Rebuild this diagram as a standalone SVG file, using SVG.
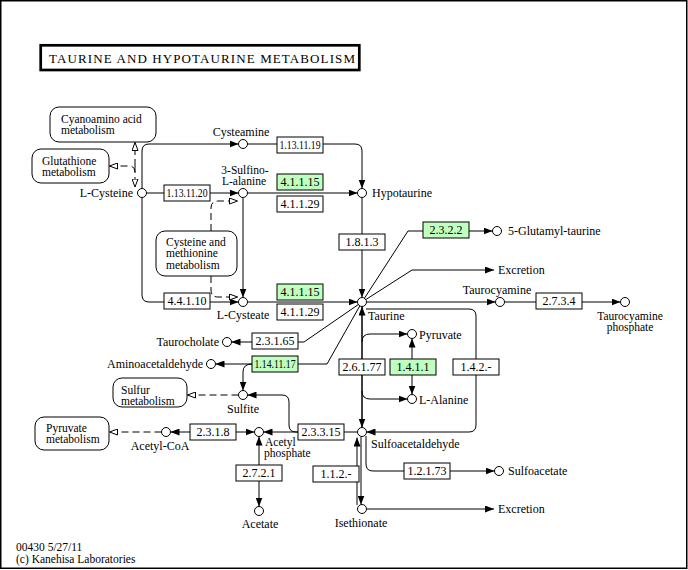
<svg xmlns="http://www.w3.org/2000/svg" width="688" height="570" viewBox="0 0 688 570" font-family="Liberation Serif, Times New Roman, serif">
<style>
text{font-family:"Liberation Serif","Times New Roman",serif;font-size:12px;fill:#000}
.m{font-size:11.5px}
.t{text-anchor:middle}
.e{text-anchor:end}
.box{fill:#fff;stroke:#000;stroke-width:1}
.g{fill:#bfffbf}
.map{fill:#fff;stroke:#000;stroke-width:1}
.c{fill:#fff;stroke:#000;stroke-width:1}
.l{fill:none;stroke:#000;stroke-width:1;marker-end:url(#ar)}
.d{fill:none;stroke:#000;stroke-width:1;stroke-dasharray:7,4;marker-end:url(#ho)}
</style>
<defs>
<marker id="ar" viewBox="0 0 9 7" refX="9" refY="3.5" markerWidth="9" markerHeight="7" markerUnits="userSpaceOnUse" orient="auto"><path d="M0,0L9,3.5L0,7z" fill="#000"/></marker>
<marker id="ho" viewBox="0 0 9 7" refX="8.5" refY="3.5" markerWidth="9" markerHeight="7" markerUnits="userSpaceOnUse" orient="auto"><path d="M0.5,0.5L8.5,3.5L0.5,6.5z" fill="#fff" stroke="#000" stroke-width="1"/></marker>
</defs>
<rect x="0.75" y="0.75" width="686" height="567.5" fill="#fff" stroke="#000" stroke-width="1.5"/>
<g id="title">
<rect x="40.7" y="45.3" width="318.6" height="24.7" fill="none" stroke="#000" stroke-width="2.7"/>
<text x="49" y="62.5" style="font-size:13px" textLength="306" lengthAdjust="spacing">TAURINE  AND  HYPOTAURINE  METABOLISM</text>
</g>
<g id="connectors">
<path class="l" d="M142,188.5 V151 Q142,144 149,144 H238.5"/>
<path class="l" d="M146.5,193 H238.5"/>
<path class="l" d="M247.5,144 H355 Q362,144 362,151 V188.5"/>
<path class="l" d="M247.5,193 H357.5"/>
<path class="l" d="M243,197.5 V297.5"/>
<path class="l" d="M142,197.5 V295 Q142,302 149,302 H238.5"/>
<path class="l" d="M247.5,302 H357.5"/>
<path class="l" d="M362,197.5 V297.5"/>
<path class="l" d="M362,302 L408,231 H492.5"/>
<path class="l" d="M362,302 L412,270 H494"/>
<path class="l" d="M366.5,302 H495.5"/>
<path class="l" d="M504.5,302 H620.5"/>
<path class="l" d="M362,302 L304,342 H231.5"/>
<path class="l" d="M362,302 L327,364 H215.5"/>
<path class="l" d="M252,364 Q243,364 243,372 V390.5"/>
<path class="l" d="M298,432 H296 Q289,432 289,425 V402 Q289,395 282,395 H247.5"/>
<path class="l" d="M357.5,432 H263.5"/>
<path class="l" d="M366,309 H469 Q476,309 476,316 V425 Q476,432 469,432 H366.5"/>
<path class="l" d="M362,427.5 V306.5"/>
<path class="l" d="M362,306.5 V427.5"/>
<path class="l" d="M362,342 Q362,334 370,334 H407.5"/>
<path class="l" d="M362,391 Q362,399 370,399 H407.5"/>
<path class="l" d="M412,367 V338.5"/>
<path class="l" d="M412,367 V394.5"/>
<path class="l" d="M213,432 H170.5"/>
<path class="l" d="M213,432 H254.5"/>
<path class="l" d="M259,473 V436.5"/>
<path class="l" d="M259,473 V506.5"/>
<path class="l" d="M357,505 V437.5"/>
<path class="l" d="M361,436.5 V504.5"/>
<path class="l" d="M366,436 V464 Q366,471 373,471 H494.5"/>
<path class="l" d="M366.5,509 H494"/>
<path class="d" d="M135,166 V142.5"/>
<path class="d" d="M135,166 V187"/>
<path class="d" d="M135,172 Q135,166 129,166 H109.5"/>
<path class="d" d="M211,231 V208 Q211,201 218,201 H237.5"/>
<path class="d" d="M211,276 V290 Q211,297 218,297 H237.5"/>
<path class="d" d="M238.5,395 H187.5"/>
<path class="d" d="M161.5,432 H109.5"/>
</g>
<g id="map-cyanoamino"><rect class="map" x="50" y="107" width="106" height="35" rx="9"/><text class="m" x="61" y="122.5">Cyanoamino acid</text><text class="m" x="61" y="134">metabolism</text></g>
<g id="map-glutathione"><rect class="map" x="32" y="149" width="77" height="34" rx="9"/><text class="m" x="42" y="164.5">Glutathione</text><text class="m" x="42" y="176">metabolism</text></g>
<g id="map-cysmet"><rect class="map" x="156" y="231" width="81" height="45" rx="9"/><text class="m" x="166" y="245.5">Cysteine and</text><text class="m" x="166" y="257">methionine</text><text class="m" x="166" y="268.5">metabolism</text></g>
<g id="map-sulfur"><rect class="map" x="113" y="378" width="74" height="29" rx="9"/><text class="m" x="121" y="393.5">Sulfur</text><text class="m" x="121" y="405">metabolism</text></g>
<g id="map-pyruvate"><rect class="map" x="35" y="417" width="74" height="33" rx="9"/><text class="m" x="46" y="431.5">Pyruvate</text><text class="m" x="46" y="443">metabolism</text></g>
<g id="e1.13.11.19"><rect class="box" x="277" y="137" width="46" height="16"/><text class="t" x="300" y="149" textLength="41" lengthAdjust="spacingAndGlyphs">1.13.11.19</text></g>
<g id="e1.13.11.20"><rect class="box" x="164" y="185" width="46" height="16"/><text class="t" x="187" y="197" textLength="41" lengthAdjust="spacingAndGlyphs">1.13.11.20</text></g>
<g id="e4.1.1.15a"><rect class="box g" x="277" y="174" width="46" height="16"/><text class="t" x="300" y="186">4.1.1.15</text></g>
<g id="e4.1.1.29a"><rect class="box" x="277" y="196" width="46" height="16"/><text class="t" x="300" y="208">4.1.1.29</text></g>
<g id="e4.4.1.10"><rect class="box" x="164" y="293" width="46" height="16"/><text class="t" x="187" y="305">4.4.1.10</text></g>
<g id="e4.1.1.15b"><rect class="box g" x="277" y="284" width="46" height="16"/><text class="t" x="300" y="296">4.1.1.15</text></g>
<g id="e4.1.1.29b"><rect class="box" x="277" y="304" width="46" height="16"/><text class="t" x="300" y="316">4.1.1.29</text></g>
<g id="e1.8.1.3"><rect class="box" x="339" y="234" width="46" height="16"/><text class="t" x="362" y="246">1.8.1.3</text></g>
<g id="e2.3.2.2"><rect class="box g" x="423" y="222" width="46" height="16"/><text class="t" x="446" y="234">2.3.2.2</text></g>
<g id="e2.7.3.4"><rect class="box" x="536" y="293" width="46" height="16"/><text class="t" x="559" y="305">2.7.3.4</text></g>
<g id="e2.3.1.65"><rect class="box" x="252" y="333" width="46" height="16"/><text class="t" x="275" y="345">2.3.1.65</text></g>
<g id="e1.14.11.17"><rect class="box g" x="252" y="356" width="46" height="16"/><text class="t" x="275" y="368" textLength="41" lengthAdjust="spacingAndGlyphs">1.14.11.17</text></g>
<g id="e2.6.1.77"><rect class="box" x="339" y="359" width="46" height="16"/><text class="t" x="362" y="371">2.6.1.77</text></g>
<g id="e1.4.1.1"><rect class="box g" x="390" y="359" width="46" height="16"/><text class="t" x="413" y="371">1.4.1.1</text></g>
<g id="e1.4.2.-"><rect class="box" x="453" y="359" width="46" height="16"/><text class="t" x="476" y="371">1.4.2.-</text></g>
<g id="e2.3.1.8"><rect class="box" x="190" y="424" width="46" height="16"/><text class="t" x="213" y="436">2.3.1.8</text></g>
<g id="e2.3.3.15"><rect class="box" x="298" y="424" width="46" height="16"/><text class="t" x="321" y="436">2.3.3.15</text></g>
<g id="e2.7.2.1"><rect class="box" x="236" y="465" width="46" height="16"/><text class="t" x="259" y="477">2.7.2.1</text></g>
<g id="e1.1.2.-"><rect class="box" x="313" y="466" width="46" height="16"/><text class="t" x="336" y="478">1.1.2.-</text></g>
<g id="e1.2.1.73"><rect class="box" x="404" y="463" width="46" height="16"/><text class="t" x="427" y="475">1.2.1.73</text></g>
<g id="cysteamine"><circle class="c" cx="243" cy="144" r="4.5"/><text class="t" x="241" y="136">Cysteamine</text></g>
<g id="l-cysteine"><circle class="c" cx="142" cy="193" r="4.5"/><text class="e" x="133" y="197">L-Cysteine</text></g>
<g id="sulfinoalanine"><circle class="c" cx="243" cy="193" r="4.5"/><text class="t m" x="245" y="174">3-Sulfino-</text><text class="t m" x="244" y="185">L-alanine</text></g>
<g id="hypotaurine"><circle class="c" cx="362" cy="193" r="4.5"/><text x="372" y="197">Hypotaurine</text></g>
<g id="l-cysteate"><circle class="c" cx="243" cy="302" r="4.5"/><text class="t" x="243" y="319">L-Cysteate</text></g>
<g id="taurine"><circle class="c" cx="362" cy="302" r="4.5"/><text x="368" y="320">Taurine</text></g>
<g id="glutamyltaurine"><circle class="c" cx="497" cy="231" r="4.5"/><text x="508" y="235">5-Glutamyl-taurine</text></g>
<g id="excretion1"><text x="498" y="274">Excretion</text></g>
<g id="taurocyamine"><circle class="c" cx="500" cy="302" r="4.5"/><text class="t" x="497" y="294">Taurocyamine</text></g>
<g id="taurocyaminep"><circle class="c" cx="625" cy="302" r="4.5"/><text class="t m" x="630" y="319.5">Taurocyamine</text><text class="t m" x="630" y="331">phosphate</text></g>
<g id="taurocholate"><circle class="c" cx="227" cy="342" r="4.5"/><text class="e" x="219" y="346">Taurocholate</text></g>
<g id="aminoacetaldehyde"><circle class="c" cx="211" cy="364" r="4.5"/><text class="e" x="203" y="368">Aminoacetaldehyde</text></g>
<g id="pyruvate"><circle class="c" cx="412" cy="334" r="4.5"/><text x="419" y="339">Pyruvate</text></g>
<g id="l-alanine"><circle class="c" cx="412" cy="399" r="4.5"/><text x="419" y="404">L-Alanine</text></g>
<g id="sulfite"><circle class="c" cx="243" cy="395" r="4.5"/><text class="t" x="243" y="413">Sulfite</text></g>
<g id="acetylcoa"><circle class="c" cx="166" cy="432" r="4.5"/><text class="t" x="160" y="450">Acetyl-CoA</text></g>
<g id="acetylphosphate"><circle class="c" cx="259" cy="432" r="4.5"/><text class="m" x="265" y="445.5">Acetyl</text><text class="m" x="264" y="457">phosphate</text></g>
<g id="sulfoacetaldehyde"><circle class="c" cx="362" cy="432" r="4.5"/><text x="371" y="448">Sulfoacetaldehyde</text></g>
<g id="acetate"><circle class="c" cx="259" cy="511" r="4.5"/><text class="t" x="260" y="528">Acetate</text></g>
<g id="sulfoacetate"><circle class="c" cx="499" cy="471" r="4.5"/><text x="508" y="475">Sulfoacetate</text></g>
<g id="isethionate"><circle class="c" cx="362" cy="509" r="4.5"/><text class="t" x="361" y="527">Isethionate</text></g>
<g id="excretion2"><text x="498" y="513">Excretion</text></g>
<g id="footer"><text class="m" x="16" y="551">00430 5/27/11</text><text class="m" x="16" y="562.5">(c) Kanehisa Laboratories</text></g>
</svg>
